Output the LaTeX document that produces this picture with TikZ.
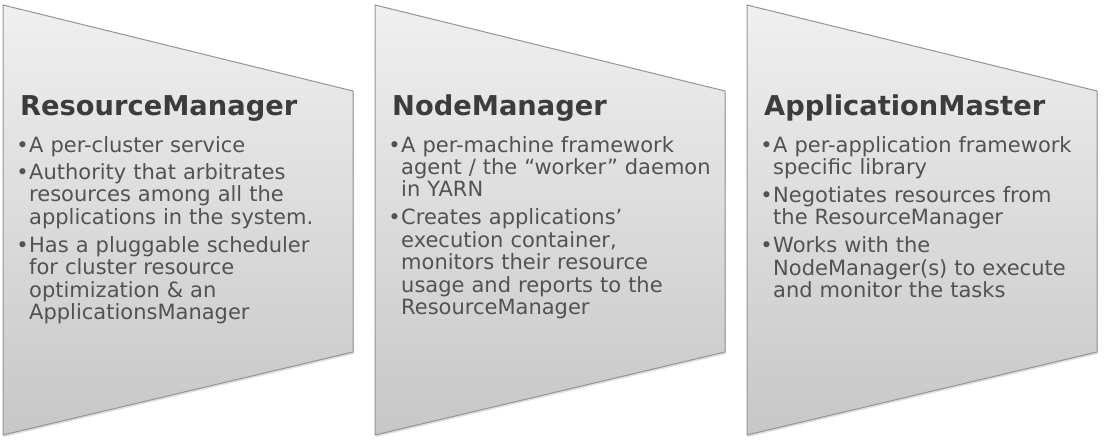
\documentclass[tikz,border=0pt]{standalone}
\usepackage{fontspec}
\setmainfont{DejaVu Sans}
\usetikzlibrary{positioning, shadows}

\definecolor{edgegray}{HTML}{949494}
\definecolor{titlegray}{HTML}{3C3C3C}
\definecolor{bodygray}{HTML}{525252}

\newcommand{\bul}{\leavevmode\llap{\textbullet\kern0.5pt}}

\begin{document}
\begin{tikzpicture}[x=1pt, y=-1pt,
    panel/.style={draw=edgegray, line width=1pt, top color=black!6, bottom color=black!22,
        drop shadow={shadow xshift=1pt, shadow yshift=-2pt, opacity=.25}},
    heading/.style={inner sep=0pt, anchor=base west, text=titlegray,
        font=\bfseries\fontsize{27.3}{30}\selectfont},
    bodytext/.style={inner sep=0pt, text=bodygray, align=left, text width=320pt,
        font=\fontsize{21}{22.4}\selectfont}]
    \useasboundingbox (0,0) rectangle (1106,444);

    \path[panel] (3,5) -- (353,91) -- (353,352) -- (3,435) -- cycle;
    \path[panel] (375,5) -- (725,91) -- (725,352) -- (375,435) -- cycle;
    \path[panel] (747,5) -- (1097,91) -- (1097,352) -- (747,435) -- cycle;

    \node[heading] (rmtitle) at (20,115) {ResourceManager};
    \node[bodytext, below=21pt of rmtitle.base west, anchor=north west, xshift=9pt] (rmtext) {%
        \bul A per-cluster service\\[5pt]
        \bul Authority that arbitrates\\
        resources among all the\\
        applications in the system.\\[5.5pt]
        \bul Has a pluggable scheduler\\
        for cluster resource\\
        optimization \& an\\
        ApplicationsManager};

    \node[heading] (nmtitle) at (392,115) {NodeManager};
    \node[bodytext, below=21pt of nmtitle.base west, anchor=north west, xshift=9pt] (nmtext) {%
        \bul A per-machine framework\\
        agent / the “worker” daemon\\
        in YARN\\[5.5pt]
        \bul Creates applications’\\
        execution container,\\
        monitors their resource\\
        usage and reports to the\\
        ResourceManager};

    \node[heading] (amtitle) at (764,115) {ApplicationMaster};
    \node[bodytext, below=21pt of amtitle.base west, anchor=north west, xshift=9pt] (amtext) {%
        \bul A per-application framework\\
        specific library\\[5.5pt]
        \bul Negotiates resources from\\
        the ResourceManager\\[5.5pt]
        \bul Works with the\\
        NodeManager(s) to execute\\
        and monitor the tasks};
\end{tikzpicture}
\end{document}
